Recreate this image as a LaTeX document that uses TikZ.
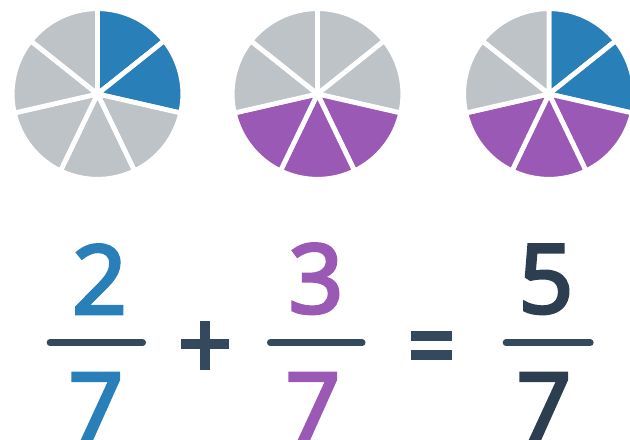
\documentclass[tikz,border=0pt]{standalone}
\usepackage{fontspec}
\setmainfont{Noto Sans}[FakeBold=3]
\usetikzlibrary{positioning, calc}
\definecolor{partblue}{HTML}{2980B9}
\definecolor{partpurple}{HTML}{9B59B6}
\definecolor{partgray}{HTML}{BDC3C7}
\definecolor{signdark}{HTML}{34495E}
\definecolor{sumdark}{HTML}{2C3E50}
\newcommand{\digitfont}{\fontsize{72}{72}\selectfont\bfseries}
\newcommand{\pieradius}{64pt}
% one pie of seven parts, filled clockwise from the top
\newcommand{\sevenpie}[2]{%
  \foreach \c [count=\i from 0] in {#2} {
    \filldraw[slice, fill=\c] (#1) -- ++({90-\i*360/7}:\pieradius)
      arc[start angle={90-\i*360/7}, end angle={90-(\i+1)*360/7}, radius=\pieradius] -- cycle;
  }%
}
\tikzset{
  slice/.style={draw=white, line width=3.6pt, line join=miter},
  digit/.style={font=\digitfont, inner sep=0pt, anchor=base},
  fracbar/.style={line width=5pt, line cap=round, draw=signdark},
  signbar/.style={fill=signdark}
}

\begin{document}
\begin{tikzpicture}[x=0.75pt, y=0.75pt]

  \useasboundingbox (0,0) rectangle (630,439);
  \clip (0,0) rectangle (630,439);

  % pies
  \coordinate (pieA) at (97.5,345);
  \coordinate (pieB) at (317.5,345);
  \coordinate (pieC) at (549,345);
  \sevenpie{pieA}{partblue,partblue,partgray,partgray,partgray,partgray,partgray}
  \sevenpie{pieB}{partgray,partgray,partpurple,partpurple,partpurple,partgray,partgray}
  \sevenpie{pieC}{partblue,partblue,partpurple,partpurple,partpurple,partgray,partgray}

  % fractions
  \node[digit, text=partblue] (numA) at (99.5,125) {2};
  \node[digit, text=partblue] (denA) at (96,-2.5) {7};
  \node[digit, text=partpurple] (numB) at (316,126) {3};
  \node[digit, text=partpurple] (denB) at (313,-2.5) {7};
  \node[digit, text=sumdark] (numC) at (546,126) {5};
  \node[digit, text=sumdark] (denC) at (544,-2.5) {7};

  \coordinate (barAl) at (50,96.3);
  \coordinate (barAr) at (142.7,96.3);
  \coordinate (barBl) at (270.3,96.3);
  \coordinate (barBr) at (362.2,96.3);
  \coordinate (barCl) at (506,96.3);
  \coordinate (barCr) at (590.3,96.3);
  \draw[fracbar] (barAl) -- (barAr);
  \draw[fracbar] (barBl) -- (barBr);
  \draw[fracbar] (barCl) -- (barCr);

  % plus and equals
  \fill[signbar] (180.7,89.7) rectangle (229,99.7);
  \fill[signbar] (199.6,69) rectangle (210,118.3);
  \fill[signbar] (410.7,98) rectangle (452.3,108);
  \fill[signbar] (410.7,79) rectangle (452.3,89);

\end{tikzpicture}
\end{document}
